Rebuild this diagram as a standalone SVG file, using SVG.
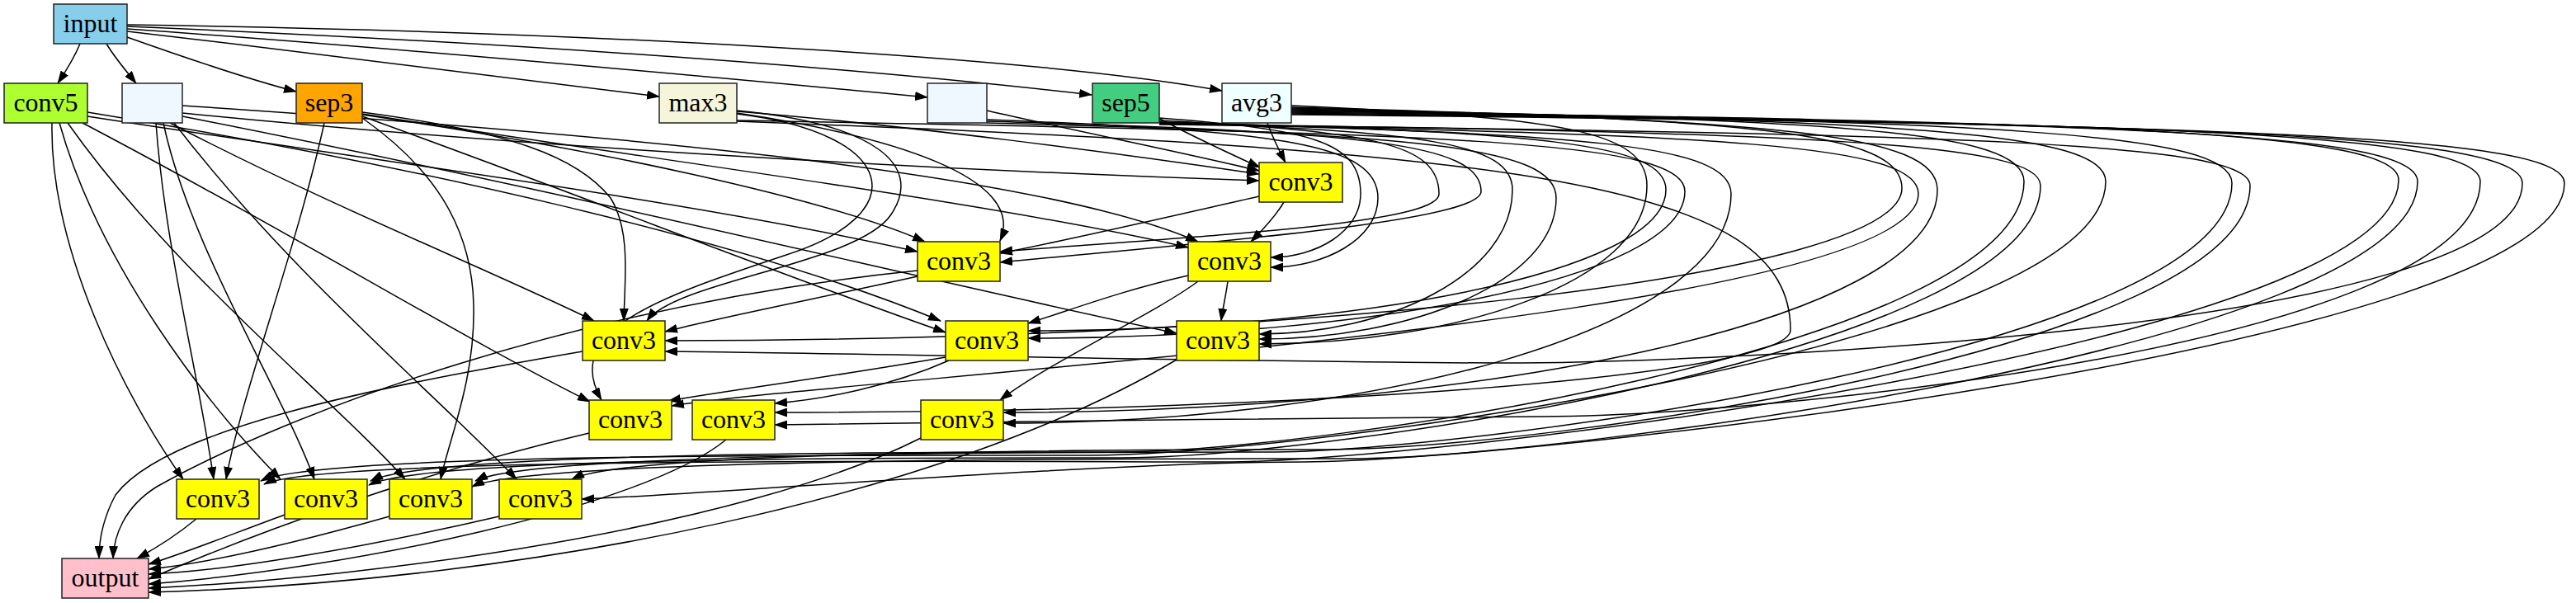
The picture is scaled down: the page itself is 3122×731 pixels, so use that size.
<svg xmlns="http://www.w3.org/2000/svg" width="3122" height="731" viewBox="0 0 3122 731">
<defs>
<marker id="ah" viewBox="0 0 16 11" refX="15" refY="5.5" markerWidth="16" markerHeight="11" markerUnits="userSpaceOnUse" orient="auto"><path d="M0,0 L16,5.5 L0,11 z" fill="#000"/></marker>
<style>
.e{fill:none;stroke:#000;stroke-width:1.5;marker-end:url(#ah)}
.n rect{stroke:#222;stroke-width:1.5}
.n text{font-family:"Liberation Serif","Times New Roman",serif;font-size:32px;fill:#000;text-anchor:middle}
</style>
</defs>
<rect width="3122" height="731" fill="#fff"/>
<g id="edges">
<path class="e" d="M97,53 C90,70 80,86 70,101"/>
<path class="e" d="M129,53 C139,70 153,86 165,101"/>
<path class="e" d="M154,45 C230,72 300,96 359,111"/>
<path class="e" d="M154,38 C380,64 620,94 799,117"/>
<path class="e" d="M154,35 C480,58 850,92 1124,118"/>
<path class="e" d="M154,32 C580,50 1000,78 1323,115"/>
<path class="e" d="M154,30 C700,38 1250,68 1481,110"/>
<path class="e" d="M1536,149 C1542,166 1550,182 1558,197"/>
<path class="e" d="M1404,143 C1440,163 1490,186 1527,203"/>
<path class="e" d="M1196,134 C1300,158 1440,186 1526,207"/>
<path class="e" d="M893,135 C1100,152 1350,185 1526,211"/>
<path class="e" d="M221,137 C600,175 1100,205 1526,219"/>
<path class="e" d="M439,139 C720,180 1000,240 1121,293"/>
<path class="e" d="M106,141 C420,190 820,240 1112,305"/>
<path class="e" d="M893,137 C1080,165 1245,215 1212,292"/>
<path class="e" d="M1526,238 C1420,262 1300,290 1212,307"/>
<path class="e" d="M221,128 C700,160 1250,205 1452,293"/>
<path class="e" d="M439,138 C800,195 1200,245 1440,300"/>
<path class="e" d="M1556,245 C1546,262 1531,278 1516,293"/>
<path class="e" d="M206,149 C400,250 600,330 720,389"/>
<path class="e" d="M439,136 C620,160 700,190 740,240 C765,280 757,340 756,389"/>
<path class="e" d="M893,134 C1060,150 1120,200 1080,260 C1040,320 820,340 784,389"/>
<path class="e" d="M1112,335 C1000,360 880,383 806,402"/>
<path class="e" d="M106,136 C500,200 900,290 1140,389"/>
<path class="e" d="M439,141 C700,235 950,335 1146,403"/>
<path class="e" d="M1440,334 C1360,352 1300,375 1246,392"/>
<path class="e" d="M1488,341 C1486,357 1482,373 1480,389"/>
<path class="e" d="M221,141 C700,235 1100,335 1426,404"/>
<path class="e" d="M100,149 C350,280 560,410 715,487"/>
<path class="e" d="M893,138 C1090,162 1110,260 950,310 C800,360 680,400 729,485"/>
<path class="e" d="M1146,433 C1000,458 880,474 810,486"/>
<path class="e" d="M1150,437 C1080,468 1000,484 939,489"/>
<path class="e" d="M1452,341 C1400,380 1270,440 1212,485"/>
<path class="e" d="M63,149 C60,300 150,480 222,581"/>
<path class="e" d="M189,149 C200,300 240,450 259,581"/>
<path class="e" d="M393,149 C360,300 292,480 274,581"/>
<path class="e" d="M72,149 C120,320 250,490 340,581"/>
<path class="e" d="M198,149 C230,300 340,470 381,581"/>
<path class="e" d="M82,149 C210,330 400,480 491,581"/>
<path class="e" d="M439,143 C520,200 572,270 574,370 C576,460 545,530 534,581"/>
<path class="e" d="M211,149 C350,330 530,480 626,581"/>
<path class="e" d="M706,426 C450,470 200,520 140,600 C124,630 120,655 120,677"/>
<path class="e" d="M1112,328 C700,370 350,500 190,590 C150,615 138,650 137,677"/>
<path class="e" d="M238,629 C215,648 190,664 166,677"/>
<path class="e" d="M345,624 C280,648 220,672 180,684"/>
<path class="e" d="M472,626 C380,652 260,682 180,690"/>
<path class="e" d="M605,626 C450,662 280,692 180,696"/>
<path class="e" d="M714,525 C500,575 300,650 180,702"/>
<path class="e" d="M880,533 C780,615 420,690 180,708"/>
<path class="e" d="M1116,531 C900,640 460,700 180,713"/>
<path class="e" d="M1426,436 C1150,600 650,705 180,718"/>
<path class="e" d="M1405,143 C1588,157 1649,171 1649,235 C1649,281 1595,312 1540,312"/>
<path class="e" d="M1196,145 C1552,159 1670,174 1670,240 C1670,290 1605,324 1540,324"/>
<path class="e" d="M1405,146 C1659,159 1744,173 1744,235 C1744,270 1500,283 1212,305"/>
<path class="e" d="M1196,147 C1645,160 1795,172 1795,232 C1795,268 1480,292 1212,318"/>
<path class="e" d="M1405,148 C1726,160 1833,173 1833,230 C1833,334 1680,405 1526,405"/>
<path class="e" d="M1196,149 C1713,163 1886,176 1886,240 C1886,344 1706,411 1526,411"/>
<path class="e" d="M1565,128 C1888,143 1996,157 1996,225 C1996,344 1761,417 1526,417"/>
<path class="e" d="M1405,148 C1865,160 2019,173 2019,230 C2019,332 1632,401 1246,401"/>
<path class="e" d="M893,146 C1755,162 2042,169 2042,232 C2042,340 1644,410 1246,410"/>
<path class="e" d="M1405,149 C1925,162 2098,175 2098,235 C2098,402 1657,513 1216,513"/>
<path class="e" d="M893,147 C1851,183 2170,222 2170,400 C2170,457 1555,500 939,500"/>
<path class="e" d="M1565,130 C2120,145 2305,159 2305,228 C2305,339 1556,413 806,413"/>
<path class="e" d="M1405,150 C2095,163 2325,175 2325,235 C2325,386 1050,455 814,492"/>
<path class="e" d="M1565,131 C2152,146 2348,161 2348,230 C2348,392 1782,500 1216,500"/>
<path class="e" d="M1565,132 C2231,145 2453,158 2453,220 C2453,420 1601,548 1351,548 S519,548 449,583"/>
<path class="e" d="M1405,150 C2206,161 2473,173 2473,225 C2473,425 1609,555 1359,555 S517,553 447,588"/>
<path class="e" d="M1565,133 C2305,146 2552,159 2552,220 C2552,420 1572,552 1322,552 S386,548 316,583"/>
<path class="e" d="M1565,134 C2420,147 2705,160 2705,222 C2705,422 1784,548 1534,548 S646,548 576,583"/>
<path class="e" d="M1405,151 C2396,162 2727,173 2727,225 C2727,425 1858,545 1608,545 S763,546 693,581"/>
<path class="e" d="M1565,135 C2571,147 2907,160 2907,218 C2907,418 1734,560 1484,560 S390,552 320,587"/>
<path class="e" d="M1565,136 C2589,148 2930,161 2930,220 C2930,420 1883,556 1633,556 S642,555 572,590"/>
<path class="e" d="M1565,137 C2646,149 3006,162 3006,220 C3006,420 2119,505 1869,505 S1009,515 939,515"/>
<path class="e" d="M1565,138 C2684,150 3057,163 3057,222 C3057,400 2069,440 1819,440 S900,426 806,426"/>
<path class="e" d="M1565,139 C2722,151 3108,164 3108,222 C3108,420 1830,560 1580,560 S800,603 705,605"/>
</g>
<g id="n-input" class="n"><rect x="65" y="5" width="89" height="48" fill="#87CEEB"/><text x="109.5" y="39">input</text></g>
<g id="n-conv5" class="n"><rect x="5" y="101" width="101" height="48" fill="#ADFF2F"/><text x="55.5" y="135">conv5</text></g>
<g id="n-blank1" class="n"><rect x="148" y="101" width="73" height="48" fill="#F0F8FF"/></g>
<g id="n-sep3" class="n"><rect x="359" y="101" width="80" height="48" fill="#FFA500"/><text x="399" y="135">sep3</text></g>
<g id="n-max3" class="n"><rect x="799" y="101" width="94" height="48" fill="#F5F5DC"/><text x="846" y="135">max3</text></g>
<g id="n-blank2" class="n"><rect x="1124" y="101" width="72" height="48" fill="#F0F8FF"/></g>
<g id="n-sep5" class="n"><rect x="1324" y="101" width="81" height="48" fill="#43CD80"/><text x="1364.5" y="135">sep5</text></g>
<g id="n-avg3" class="n"><rect x="1481" y="101" width="84" height="48" fill="#F0FFFF"/><text x="1523" y="135">avg3</text></g>
<g id="n-c3a" class="n"><rect x="1526" y="197" width="101" height="48" fill="#FFFF00"/><text x="1576.5" y="231">conv3</text></g>
<g id="n-c3b" class="n"><rect x="1112" y="293" width="100" height="48" fill="#FFFF00"/><text x="1162" y="327">conv3</text></g>
<g id="n-c3c" class="n"><rect x="1440" y="293" width="100" height="48" fill="#FFFF00"/><text x="1490" y="327">conv3</text></g>
<g id="n-c3d" class="n"><rect x="706" y="389" width="100" height="48" fill="#FFFF00"/><text x="756" y="423">conv3</text></g>
<g id="n-c3j" class="n"><rect x="1146" y="389" width="100" height="48" fill="#FFFF00"/><text x="1196" y="423">conv3</text></g>
<g id="n-c3k" class="n"><rect x="1426" y="389" width="100" height="48" fill="#FFFF00"/><text x="1476" y="423">conv3</text></g>
<g id="n-c3e" class="n"><rect x="714" y="485" width="100" height="48" fill="#FFFF00"/><text x="764" y="519">conv3</text></g>
<g id="n-c3l" class="n"><rect x="839" y="485" width="100" height="48" fill="#FFFF00"/><text x="889" y="519">conv3</text></g>
<g id="n-c3m" class="n"><rect x="1116" y="485" width="100" height="48" fill="#FFFF00"/><text x="1166" y="519">conv3</text></g>
<g id="n-c3f" class="n"><rect x="214" y="581" width="100" height="48" fill="#FFFF00"/><text x="264" y="615">conv3</text></g>
<g id="n-c3g" class="n"><rect x="345" y="581" width="100" height="48" fill="#FFFF00"/><text x="395" y="615">conv3</text></g>
<g id="n-c3h" class="n"><rect x="472" y="581" width="100" height="48" fill="#FFFF00"/><text x="522" y="615">conv3</text></g>
<g id="n-c3i" class="n"><rect x="605" y="581" width="100" height="48" fill="#FFFF00"/><text x="655" y="615">conv3</text></g>
<g id="n-output" class="n"><rect x="75" y="677" width="105" height="48" fill="#FFC0CB"/><text x="127.5" y="711">output</text></g>
</svg>
